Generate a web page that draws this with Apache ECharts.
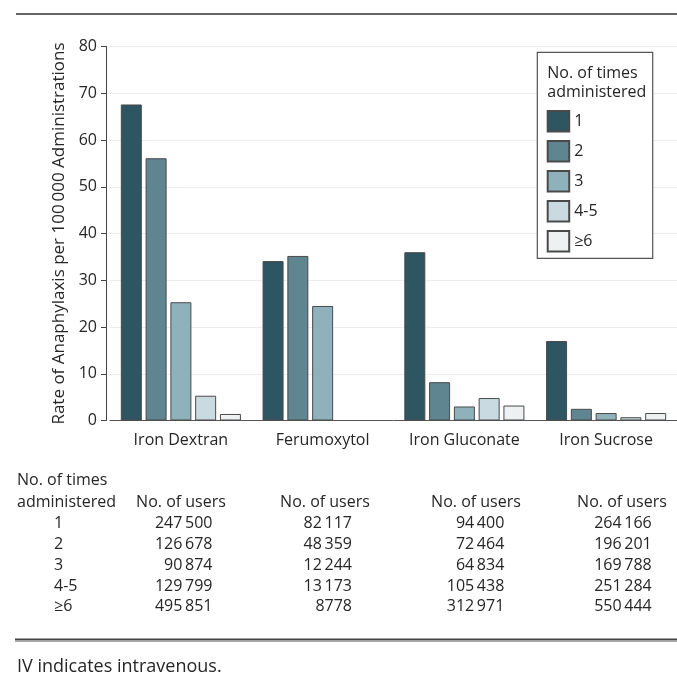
<!DOCTYPE html>
<html>
<head>
<meta charset="utf-8">
<script src="https://cdn.jsdelivr.net/npm/echarts@6/dist/echarts.min.js"></script>
<style>
html,body{margin:0;padding:0;background:#fff;}
#chart{width:677px;height:682px;}
</style>
</head>
<body>
<div id="chart"></div>
<script>
// ---- data ----
const categories = ['Iron Dextran', 'Ferumoxytol', 'Iron Gluconate', 'Iron Sucrose'];
const doseGroups = ['1', '2', '3', '4-5', '≥6'];
const rateDose1  = [67.6, 34.1, 36.0, 17.0];
const rateDose2  = [56.1, 35.2, 8.2, 2.5];
const rateDose3  = [25.3, 24.5, 3.0, 1.6];
const rateDose45 = [5.3, null, 4.8, 0.7];
const rateDose6  = [1.4, null, 3.2, 1.6];
const usersIronDextran    = [247500, 126678, 90874, 129799, 495851];
const usersFerumoxytol    = [82117, 48359, 12244, 13173, 8778];
const usersIronGluconate  = [94400, 72464, 64834, 105438, 312971];
const usersIronSucrose    = [264166, 196201, 169788, 251284, 550444];
const yTicks = [0, 10, 20, 30, 40, 50, 60, 70, 80];

// ---- styling ----
const FONT = '"Open Sans", "Noto Sans", sans-serif';
const TXT = '#262626';
const colors = ['#2d5562', '#5e8590', '#8fb1bc', '#c9dbe1', '#eef1f1'];
const seriesValues = [rateDose1, rateDose2, rateDose3, rateDose45, rateDose6];
const usersByDrug = [usersIronDextran, usersFerumoxytol, usersIronGluconate, usersIronSucrose];

function fmt(n) {
  const s = String(n);
  return n >= 10000 ? s.slice(0, s.length - 3) + '\u2009' + s.slice(-3) : s;
}

const chart = echarts.init(document.getElementById('chart'), null, {renderer: 'canvas'});

const series = doseGroups.map((g, i) => ({
  name: g,
  type: 'bar',
  data: seriesValues[i],
  barWidth: 21,
  barGap: '18%',
  itemStyle: {color: colors[i], borderColor: '#4a4a4a', borderWidth: 1},
  emphasis: {disabled: true}
}));

// table graphics
const graphics = [];
const hdrCenters = [181, 325, 476, 622];
const numRight = [212.5, 352, 504.3, 651.7];
const rowY = [523.3, 544, 565, 586, 606.7];
function txt(x, y, text, size, align) {
  return {type: 'text', x: x, y: y, silent: true, z: 10,
    style: {text: text, font: size + 'px ' + FONT, fill: TXT, align: align || 'left', verticalAlign: 'middle'}};
}
graphics.push({type: 'line', silent: true, shape: {x1: 16, y1: 14, x2: 677, y2: 14}, style: {stroke: '#333', lineWidth: 1.5}});
graphics.push({type: 'line', silent: true, shape: {x1: 15, y1: 639.5, x2: 677, y2: 639.5}, style: {stroke: '#444', lineWidth: 2}});
graphics.push({type: 'line', silent: true, shape: {x1: 15, y1: 641.5, x2: 677, y2: 641.5}, style: {stroke: '#aaa', lineWidth: 1}});
graphics.push(txt(17, 480.7, 'No. of times', 16));
graphics.push(txt(17, 502.7, 'administered', 16));
hdrCenters.forEach((c) => graphics.push(txt(c, 502.7, 'No. of users', 16, 'center')));
doseGroups.forEach((g, r) => {
  graphics.push(txt(54, rowY[r], g, 16));
  usersByDrug.forEach((arr, c) => graphics.push(txt(numRight[c], rowY[r], fmt(arr[r]), 16, 'right')));
});
graphics.push(txt(17, 666.7, 'IV indicates intravenous.', 18));
// legend box + title
graphics.push({type: 'rect', silent: true, z: 5, shape: {x: 537.3, y: 52.3, width: 115.4, height: 206}, style: {fill: '#fff', stroke: '#555', lineWidth: 1.2}});
graphics.push(txt(547.3, 73.3, 'No. of times', 16));
graphics.push(txt(547.3, 92.7, 'administered', 16));

chart.setOption({
  animation: false,
  backgroundColor: '#fff',
  textStyle: {fontFamily: FONT, color: TXT},
  grid: {left: 110, top: 46.5, width: 586, height: 374, containLabel: false},
  legend: {
    data: doseGroups,
    orient: 'vertical',
    left: 546.7, top: 110,
    z: 20,
    itemWidth: 21.5, itemHeight: 20.5, itemGap: 7.5,
    icon: 'rect',
    padding: 0,
    selectedMode: false,
    textStyle: {fontSize: 16, color: TXT, fontFamily: FONT}
  },
  xAxis: {
    type: 'category',
    data: categories,
    axisLine: {lineStyle: {color: '#555', width: 1}},
    axisTick: {show: false},
    axisLabel: {fontSize: 16, color: TXT, margin: 12, interval: 0, fontFamily: FONT}
  },
  yAxis: {
    type: 'value',
    min: yTicks[0], max: yTicks[yTicks.length - 1], interval: 10,
    offset: 4,
    name: 'Rate of Anaphylaxis per 100\u2009000 Administrations',
    nameLocation: 'middle',
    nameGap: 38,
    nameTextStyle: {fontSize: 17, color: TXT, fontFamily: FONT},
    axisLine: {show: true, lineStyle: {color: '#444', width: 1}},
    axisTick: {show: true, length: 5, lineStyle: {color: '#444'}},
    axisLabel: {fontSize: 16, color: TXT, margin: 9, fontFamily: FONT},
    splitLine: {show: true, lineStyle: {color: '#ececec', width: 1}}
  },
  graphic: graphics,
  series: series
});
</script>
</body>
</html>
